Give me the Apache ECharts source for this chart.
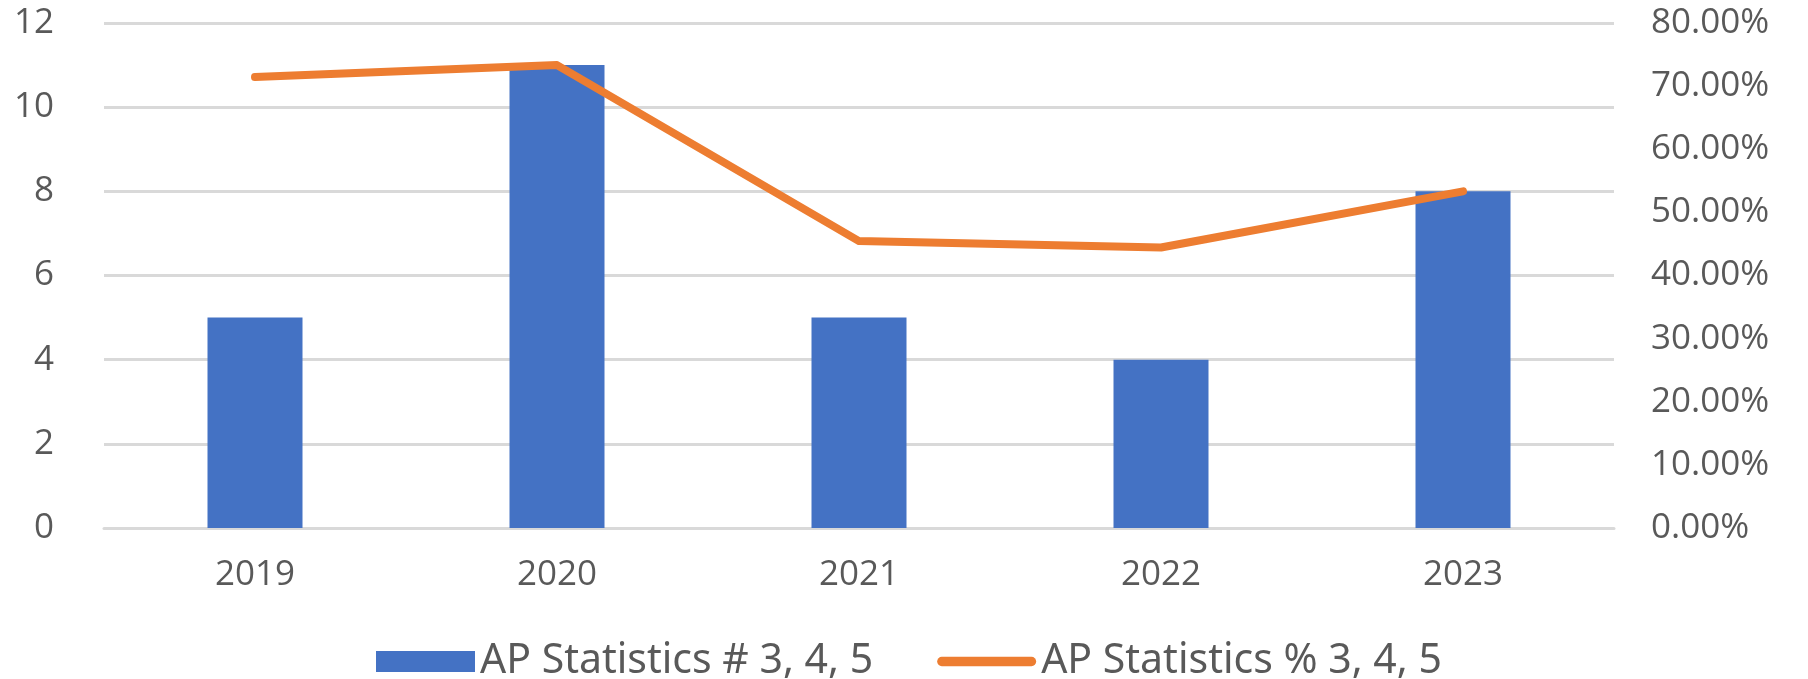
<!DOCTYPE html>
<html>
<head>
<meta charset="utf-8">
<script src="https://cdn.jsdelivr.net/npm/echarts@6/dist/echarts.min.js"></script>
<style>
html, body { margin: 0; padding: 0; background: #fff; }
#chart { width: 1808px; height: 679px; }
</style>
</head>
<body>
<div id="chart"></div>
<script>
const years = ["2019", "2020", "2021", "2022", "2023"];
const countValues = [5, 11, 5, 4, 8];
const percentValues = [0.7143, 0.7333, 0.4545, 0.4444, 0.5333];
const countName = "AP Statistics # 3, 4, 5";
const percentName = "AP Statistics % 3, 4, 5";

const mychart = echarts.init(document.getElementById("chart"));
const axisFont = { color: "#595959", fontSize: 35, fontFamily: "Open Sans" };

mychart.setOption({
  animation: false,
  color: ["#4472C4", "#ED7D31"],
  grid: { left: 104, right: 194, top: 23, bottom: 151 },
  legend: {
    left: 371,
    top: 636,
    itemWidth: 99,
    itemHeight: 21,
    itemGap: 64,
    textStyle: { color: "#595959", fontSize: 41, fontFamily: "'Liberation Sans Narrow', 'Noto Sans', sans-serif" },
    data: [
      { name: countName, icon: "rect" },
      { name: percentName, icon: "path://M5,0 H102 A5,5 0 0 1 102,10 H5 A5,5 0 0 1 5,0 Z" }
    ]
  },
  xAxis: {
    type: "category",
    data: years,
    axisTick: { show: false },
    axisLine: { lineStyle: { color: "#d9d9d9", width: 3 } },
    axisLabel: Object.assign({ margin: 30 }, axisFont)
  },
  yAxis: [
    {
      type: "value",
      min: 0,
      max: 12,
      interval: 2,
      axisLabel: Object.assign({ margin: 50 }, axisFont),
      splitLine: { lineStyle: { color: "#d9d9d9", width: 3 } }
    },
    {
      type: "value",
      min: 0,
      max: 0.8,
      interval: 0.1,
      axisLabel: Object.assign({
        margin: 37,
        formatter: function (v) { return (v * 100).toFixed(2) + "%"; }
      }, axisFont),
      splitLine: { show: false }
    }
  ],
  series: [
    {
      name: countName,
      type: "bar",
      data: countValues,
      barWidth: 95
    },
    {
      name: percentName,
      type: "line",
      yAxisIndex: 1,
      data: percentValues,
      symbol: "none",
      lineStyle: { width: 8, cap: "round", join: "round" }
    }
  ]
});
</script>
</body>
</html>
